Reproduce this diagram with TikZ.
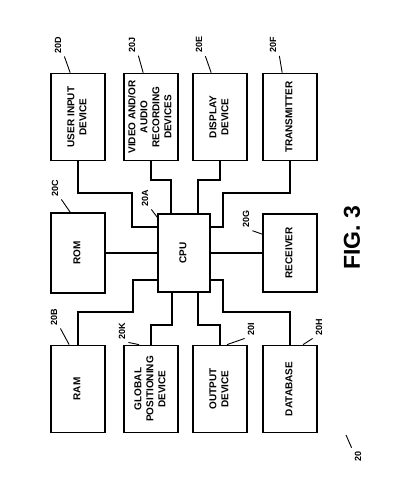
\documentclass[tikz,border=0pt]{standalone}
\usepackage{fontspec}
\setmainfont{Liberation Sans}

\newcommand{\sidetext}[1]{\rotatebox{90}{\begin{tabular}{@{}c@{}}#1\end{tabular}}}

\begin{document}
\begin{tikzpicture}[
    x=1pt, y=1pt,
    box/.style={draw, line width=1.7pt, minimum width=54pt, minimum height=87pt, inner sep=0pt, font=\fontsize{10}{12}\selectfont\bfseries},
    wire/.style={line width=1.5pt},
    leader/.style={line width=0.9pt},
    ref/.style={rotate=90, inner sep=3pt, font=\fontsize{9}{10}\selectfont\bfseries}
]
    \useasboundingbox (0,0) rectangle (400,492);

    % Top row
    \node[box] (uid) at (78,375) {\sidetext{USER INPUT\\DEVICE}};
    \node[box] (vid) at (151,375) {\sidetext{VIDEO AND/OR\\AUDIO\\RECORDING\\DEVICES}};
    \node[box] (disp) at (220,375) {\sidetext{DISPLAY\\DEVICE}};
    \node[box] (tx) at (290,375) {\sidetext{TRANSMITTER}};

    % Middle row
    \node[box, minimum height=80pt] (rom) at (78,239) {\sidetext{ROM}};
    \node[box, minimum width=52pt, minimum height=78pt] (cpu) at (184,239) {\sidetext{CPU}};
    \node[box, minimum height=78pt] (rcv) at (290,239) {\sidetext{RECEIVER}};

    % Bottom row
    \node[box] (ram) at (78,103) {\sidetext{RAM}};
    \node[box] (gps) at (151,103) {\sidetext{GLOBAL\\POSITIONING\\DEVICE}};
    \node[box] (out) at (220,103) {\sidetext{OUTPUT\\DEVICE}};
    \node[box] (db) at (290,103) {\sidetext{DATABASE}};

    % Bus lines
    \draw[wire] (uid.south) |- (132,299) |- (cpu.west |- 0,265);
    \draw[wire] (vid.south) |- (171,312) -- (cpu.north -| 171,0);
    \draw[wire] (disp.south) |- (198,312) -- (cpu.north -| 198,0);
    \draw[wire] (tx.south) |- (223,299) |- (cpu.east |- 0,265);
    \draw[wire] (rom.east) -- (cpu.west);
    \draw[wire] (cpu.east) -- (rcv.west);
    \draw[wire] (cpu.west |- 0,212) -| (133,180) -| (ram.north);
    \draw[wire] (cpu.south -| 172,0) |- (151,167) -- (gps.north);
    \draw[wire] (cpu.south -| 198,0) |- (220,167) -- (out.north);
    \draw[wire] (cpu.east |- 0,212) -| (223,180) -| (db.north);

    % Reference numerals
    \node[ref] (lD) at (58,447) {20D};
    \node[ref] (lJ) at (132,447) {20J};
    \node[ref] (lE) at (199,447) {20E};
    \node[ref] (lF) at (273,447) {20F};
    \node[ref] (lC) at (55,304) {20C};
    \node[ref] (lA) at (145,294) {20A};
    \node[ref] (lG) at (246,273) {20G};
    \node[ref] (lB) at (54,175) {20B};
    \node[ref] (lK) at (122,161) {20K};
    \node[ref] (lI) at (251,163) {20I};
    \node[ref] (lH) at (319,165) {20H};
    \node[ref] (l20) at (358,36) {20};
    \coordinate (fig20) at (346,57);

    \draw[leader] (lD.south west) -- ([xshift=20pt]uid.north west);
    \draw[leader] (lJ.south west) -- ([xshift=20pt]vid.north west);
    \draw[leader] (lE.south west) -- ([xshift=19pt]disp.north west);
    \draw[leader] (lF.south west) -- ([xshift=20pt]tx.north west);
    \draw[leader] (lC.south west) -- ([xshift=20pt]rom.north west);
    \draw[leader] (lA.south west) -- ([yshift=-4pt]cpu.north west);
    \draw[leader] (lG.south west) -- ([yshift=-21pt]rcv.north west);
    \draw[leader] (lB.south west) -- ([xshift=19pt]ram.north west);
    \draw[leader] (lK.south west) -- ([xshift=16pt]gps.north west);
    \draw[leader] (lI.north west) -- ([xshift=7pt]out.north);
    \draw[leader] (lH.north west) -- ([xshift=13pt]db.north);
    \draw[leader] (fig20) -- (l20.north east);

    \node[rotate=90, font=\fontsize{23}{23}\selectfont\bfseries] (fig) at (352,254) {FIG. 3};
\end{tikzpicture}
\end{document}
